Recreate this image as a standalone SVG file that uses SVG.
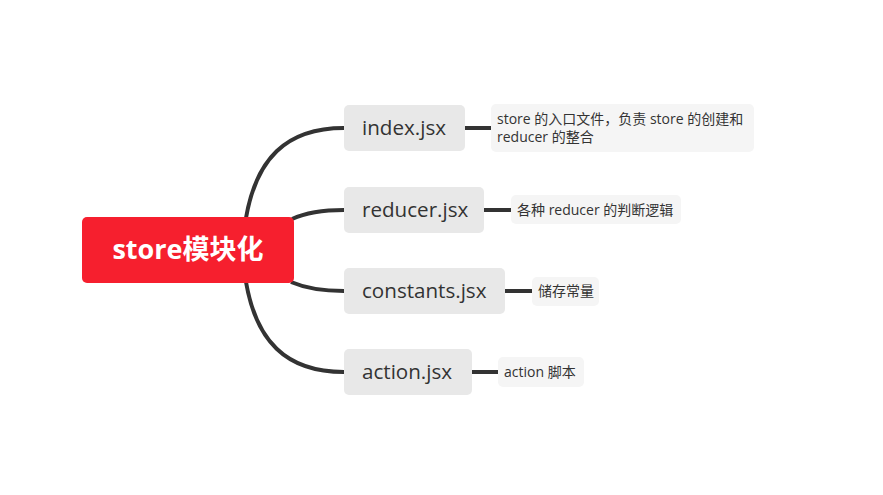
<svg xmlns="http://www.w3.org/2000/svg" width="883" height="495" viewBox="0 0 883 495">
<style>
.node{fill:#e8e8e8}
.note{fill:#f5f5f5}
.nt{font-family:"Open Sans","Noto Sans CJK SC",sans-serif;font-size:20.6px;fill:#333}
.tt{font-family:"Open Sans","Noto Sans CJK SC",sans-serif;font-size:14px;fill:#333}
.c{fill:none;stroke:#333;stroke-width:4}
</style>
<rect width="883" height="495" fill="#fff"/>
<g id="connectors">
<path class="c" d="M246,218 C256,160 285,128 344,128"/>
<path class="c" d="M292,219 C305,213 320,210 344,210"/>
<path class="c" d="M291,282 C305,288 320,291 344,291"/>
<path class="c" d="M246,282 C256,340 285,372 344,372"/>
<path class="c" d="M465,128 H491"/>
<path class="c" d="M484,210 H511"/>
<path class="c" d="M505,291 H532"/>
<path class="c" d="M472,372 H498"/>
</g>
<g id="root">
<rect x="82" y="217" width="212" height="66" rx="5" fill="#f61f2e"/>
<text x="188" y="259" text-anchor="middle" font-family="'Open Sans','Noto Sans CJK SC',sans-serif" font-size="27" font-weight="bold" fill="#fff">store模块化</text>
</g>
<g id="n-index">
<rect class="node" x="344" y="105" width="121" height="46" rx="5"/>
<text class="nt" x="362" y="135">index.jsx</text>
</g>
<g id="n-reducer">
<rect class="node" x="344" y="187" width="140" height="46" rx="5"/>
<text class="nt" x="362" y="217">reducer.jsx</text>
</g>
<g id="n-constants">
<rect class="node" x="344" y="268" width="161" height="46" rx="5"/>
<text class="nt" x="362" y="298">constants.jsx</text>
</g>
<g id="n-action">
<rect class="node" x="344" y="349" width="128" height="46" rx="5"/>
<text class="nt" x="362" y="379">action.jsx</text>
</g>
<g id="t-index">
<rect class="note" x="491" y="104" width="263" height="48" rx="5"/>
<text class="tt" x="497" y="124">store 的入口文件，负责 store 的创建和</text>
<text class="tt" x="497" y="142">reducer 的整合</text>
</g>
<g id="t-reducer">
<rect class="note" x="511" y="195" width="170" height="29" rx="5"/>
<text class="tt" x="517" y="215">各种 reducer 的判断逻辑</text>
</g>
<g id="t-constants">
<rect class="note" x="532" y="277" width="67" height="29" rx="5"/>
<text class="tt" x="538" y="296">储存常量</text>
</g>
<g id="t-action">
<rect class="note" x="498" y="357" width="86" height="30" rx="5"/>
<text class="tt" x="504" y="377">action 脚本</text>
</g>
</svg>
